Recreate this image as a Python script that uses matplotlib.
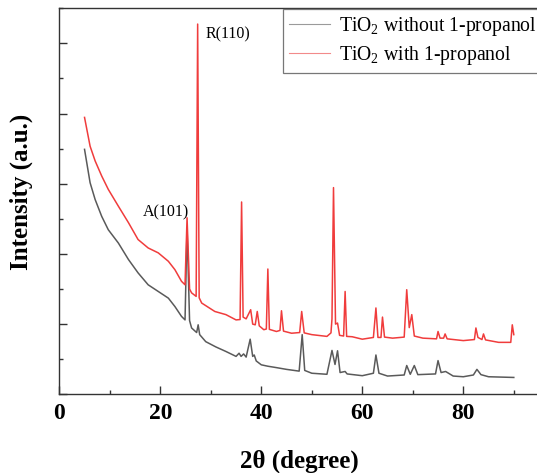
import matplotlib
matplotlib.use('Agg')
import matplotlib.pyplot as plt
from matplotlib.lines import Line2D
from matplotlib.ticker import MultipleLocator

# ==========================================
# DATA: XRD patterns (2theta in degree, intensity in a.u.)
# ==========================================
x_without = [5.0, 6.1, 7.1, 8.4, 9.7, 11.7, 13.7, 15.6, 17.6, 19.6, 21.6, 22.9, 24.2, 24.9,
             25.3, 25.8, 26.2, 27.2, 27.5, 27.8, 29.0, 31.0, 33.0, 35.0, 35.6, 36.0, 36.5,
             37.0, 37.8, 38.3, 38.6, 39.0, 40.0, 41.3, 43.0, 45.0, 47.5, 48.1, 48.6, 50.0,
             53.0, 54.0, 54.6, 55.1, 55.6, 56.6, 57.0, 60.0, 62.2, 62.7, 63.3, 65.0, 68.3,
             68.8, 69.5, 70.3, 71.0, 74.5, 75.0, 75.6, 76.5, 78.0, 80.0, 82.0, 82.7, 83.5,
             85.0, 90.0]
y_without = [6.98, 6.03, 5.55, 5.07, 4.69, 4.31, 3.84, 3.46, 3.12, 2.93, 2.74, 2.50, 2.22, 2.12,
             4.75, 2.10, 1.89, 1.76, 1.98, 1.70, 1.50, 1.35, 1.22, 1.08, 1.17, 1.08, 1.15,
             1.06, 1.57, 1.08, 1.12, 0.95, 0.84, 0.80, 0.76, 0.71, 0.66, 1.70, 0.68, 0.60,
             0.57, 1.25, 0.85, 1.24, 0.62, 0.65, 0.58, 0.53, 0.60, 1.12, 0.60, 0.52, 0.55,
             0.82, 0.57, 0.82, 0.56, 0.58, 0.96, 0.62, 0.65, 0.52, 0.50, 0.55, 0.71, 0.56,
             0.50, 0.48]

x_with = [5.0, 6.1, 7.1, 8.4, 9.7, 11.7, 13.7, 15.6, 17.6, 19.6, 21.6, 22.9, 24.2, 24.9,
          25.3, 25.8, 26.2, 27.1, 27.4, 27.7, 28.2, 30.8, 33.0, 35.0, 35.8, 36.1, 36.4,
          37.0, 37.9, 38.3, 38.8, 39.2, 39.6, 40.5, 41.0, 41.3, 41.6, 43.0, 43.7, 44.0,
          44.4, 46.0, 47.6, 48.0, 48.5, 50.0, 53.0, 53.8, 54.0, 54.3, 54.7, 55.1, 55.5,
          56.3, 56.6, 56.9, 58.0, 60.0, 62.2, 62.7, 63.1, 63.7, 64.0, 64.4, 66.0, 68.3,
          68.8, 69.3, 69.8, 70.3, 72.0, 74.7, 75.0, 75.4, 76.1, 76.4, 76.8, 80.0, 82.2,
          82.5, 82.9, 83.7, 84.0, 84.4, 87.0, 89.4, 89.7, 90.0]
y_with = [7.89, 7.07, 6.65, 6.22, 5.84, 5.36, 4.89, 4.41, 4.17, 4.03, 3.79, 3.55, 3.22, 3.12,
          5.03, 3.00, 2.89, 2.79, 10.55, 2.75, 2.60, 2.36, 2.27, 2.12, 2.13, 5.48, 2.20,
          2.15, 2.41, 2.00, 1.98, 2.36, 1.95, 1.84, 1.86, 3.57, 1.85, 1.79, 1.82, 2.38,
          1.80, 1.74, 1.76, 2.36, 1.75, 1.70, 1.65, 1.75, 2.15, 5.89, 2.00, 2.03, 1.68,
          1.66, 2.93, 1.65, 1.64, 1.57, 1.62, 2.46, 1.62, 1.62, 2.20, 1.63, 1.60, 1.63,
          2.98, 1.90, 2.27, 1.66, 1.60, 1.58, 1.79, 1.60, 1.60, 1.72, 1.58, 1.53, 1.56,
          1.89, 1.62, 1.56, 1.72, 1.55, 1.48, 1.48, 1.98, 1.70]

labels = ["TiO$_2$ without 1-propanol", "TiO$_2$ with 1-propanol"]
peak_names = ["R(110)", "A(101)"]

plt.rcParams['font.family'] = ['Liberation Serif', 'DejaVu Serif']
plt.rcParams['mathtext.fontset'] = 'custom'
plt.rcParams['mathtext.rm'] = 'Liberation Serif'
plt.rcParams['mathtext.it'] = 'Liberation Serif:italic'
plt.rcParams['mathtext.bf'] = 'Liberation Serif:bold'

# ==========================================
# FIGURE
# ==========================================
fig = plt.figure(figsize=(5.37, 4.73), dpi=100)
ax = fig.add_axes([0.1104, 0.1664, 0.8934, 0.8161])

ax.plot(x_without, y_without, color='#5a5a5a', lw=1.1)
ax.plot(x_with, y_with, color='#f03c3c', lw=1.1)

ax.set_xlim(0, 95)
ax.set_ylim(0, 11)
ax.xaxis.set_major_locator(MultipleLocator(20))
ax.xaxis.set_minor_locator(MultipleLocator(10))
ax.yaxis.set_major_locator(MultipleLocator(2))
ax.yaxis.set_minor_locator(MultipleLocator(1))
ax.set_yticklabels([])
ax.tick_params(which='both', direction='in', width=1.0, color='#333333')
ax.tick_params(which='major', length=6, pad=6)
ax.tick_params(which='minor', length=3)
ax.tick_params(axis='x', labelsize=17)
for lbl in ax.get_xticklabels():
    lbl.set_fontweight('bold')
for side in ['left', 'bottom', 'top', 'right']:
    ax.spines[side].set_linewidth(1.0)
    ax.spines[side].set_color('#333333')

ax.set_xlabel("2θ (degree)", fontsize=18, fontweight='bold')
ax.set_ylabel("Intensity (a.u.)", fontsize=18, fontweight='bold')
ax.xaxis.set_label_coords(0.5, -0.142)
ax.yaxis.set_label_coords(-0.055, 0.524)

# peak labels
ax.text(29.05, 10.27, peak_names[0], fontsize=11.5, va='center', ha='left')
ax.text(16.6, 5.18, peak_names[1], fontsize=11.5, va='center', ha='left')

# legend with thin proxy lines (box runs past the right edge, as in the source)
handles = [Line2D([], [], color='#9a9a9a', lw=0.8), Line2D([], [], color='#f28a8a', lw=0.8)]
leg = ax.legend(handles, labels, loc='upper left', bbox_to_anchor=(283 / 537, 464 / 473),
                bbox_transform=fig.transFigure, borderaxespad=0, fontsize=14.2,
                fancybox=False, framealpha=1, edgecolor='#777777', borderpad=0.3,
                handlelength=2.1, handletextpad=0.45, labelspacing=0.32)
leg.get_frame().set_linewidth(0.9)

plt.savefig("out.png", dpi=100)
plt.close()
